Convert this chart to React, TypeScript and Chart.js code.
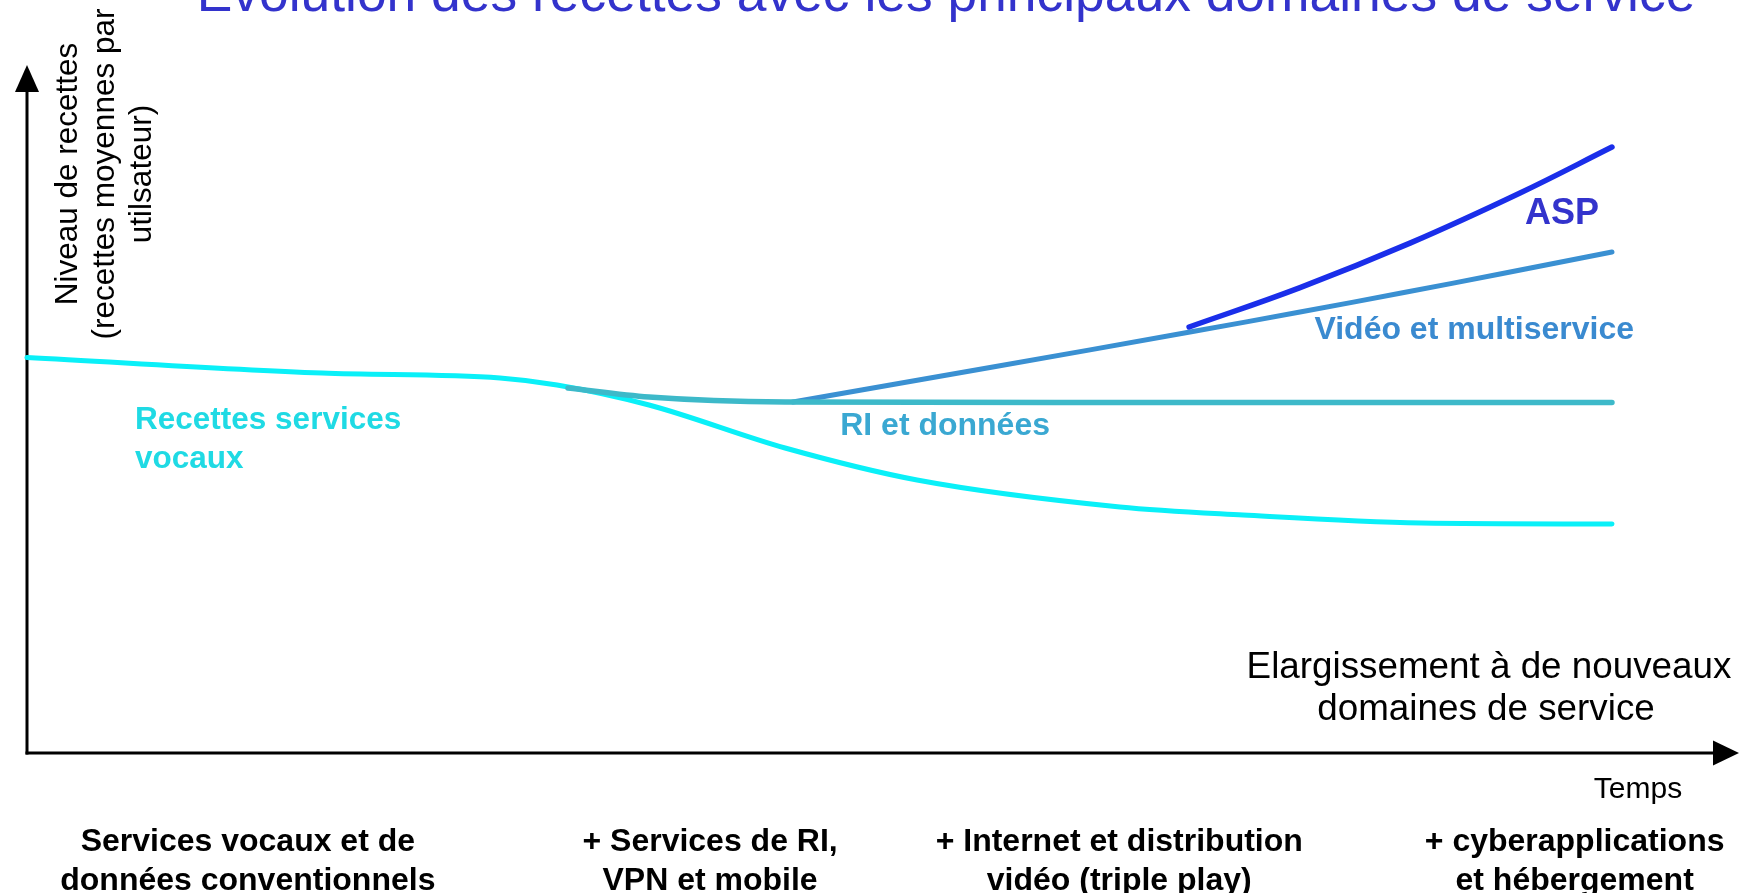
import React, { useEffect, useRef } from "react";
import { Chart, registerables } from "chart.js";

Chart.register(...registerables);

// ---- Data (time units 0..100, revenue level units 0..100) ----
const voiceTime = [0, 17.23, 27.63, 30.96, 36.33, 44.28, 51.99, 63.84, 71.03, 81.43, 92.58];
const voiceRevenue = [57.5, 55.23, 54.51, 53.49, 50.58, 44.33, 39.68, 35.76, 34.59, 33.43, 33.28];

const riTime = [31.6, 36.33, 44.28, 60.0, 92.58];
const riRevenue = [53.05, 51.74, 51.02, 50.95, 50.95];

const videoTime = [44.74, 56.25, 67.93, 74.36, 80.43, 86.04, 92.58];
const videoRevenue = [51.02, 56.03, 61.19, 64.1, 66.93, 69.62, 72.82];

const aspTime = [67.88, 74.36, 80.78, 87.21, 92.58];
const aspRevenue = [61.92, 67.65, 74.11, 81.4, 88.08];

const seriesNames = ["RI et données", "ASP", "Vidéo et multiservice", "Recettes services vocaux"];

const phaseCenters = [12.9, 39.9, 63.8, 90.4];
const phaseLabels = [
  ["Services vocaux et de", "données conventionnels"],
  ["+ Services de RI,", "VPN et mobile"],
  ["+ Internet et distribution", "vidéo (triple play)"],
  ["+ cyberapplications", "et hébergement"],
];

const titleText = "Evolution des recettes avec les principaux domaines de service";
const yAxisTitle = ["Niveau de recettes", "(recettes moyennes par", "utilsateur)"];
const xAxisTitle = ["Elargissement à de nouveaux", "domaines de service"];
const timeLabel = "Temps";

const FONT = '"Liberation Sans", Arial, Helvetica, sans-serif';

function toPoints(xs: number[], ys: number[]) {
  return xs.map((x, i) => ({ x, y: ys[i] }));
}

const decorPlugin = {
  id: "decor",
  beforeDatasetsDraw(chart: any) {
    const { ctx, chartArea } = chart;
    const { left, right, top, bottom } = chartArea;
    ctx.save();
    ctx.strokeStyle = "#000";
    ctx.fillStyle = "#000";
    ctx.lineWidth = 3;
    // y axis
    ctx.beginPath();
    ctx.moveTo(left, bottom + 1.5);
    ctx.lineTo(left, top + 20);
    ctx.stroke();
    ctx.beginPath();
    ctx.moveTo(left, top);
    ctx.lineTo(left - 12, top + 27);
    ctx.lineTo(left + 12, top + 27);
    ctx.closePath();
    ctx.fill();
    // x axis
    ctx.beginPath();
    ctx.moveTo(left - 1.5, bottom);
    ctx.lineTo(right - 20, bottom);
    ctx.stroke();
    ctx.beginPath();
    ctx.moveTo(right, bottom);
    ctx.lineTo(right - 26, bottom - 12.5);
    ctx.lineTo(right - 26, bottom + 12.5);
    ctx.closePath();
    ctx.fill();
    ctx.restore();
  },
  afterDraw(chart: any) {
    const { ctx, chartArea, scales } = chart;
    const xs = scales.x;
    const ys = scales.y;
    const { bottom } = chartArea;
    ctx.save();
    ctx.textBaseline = "alphabetic";

    // Title
    ctx.fillStyle = "#3333CC";
    ctx.font = `53.4px ${FONT}`;
    ctx.textAlign = "center";
    ctx.fillText(titleText, 946, 11);

    // Y axis title (rotated)
    ctx.fillStyle = "#000";
    ctx.font = `31.5px ${FONT}`;
    const yBase = [77, 114, 151];
    yAxisTitle.forEach((t, i) => {
      ctx.save();
      ctx.translate(yBase[i], 174);
      ctx.rotate(-Math.PI / 2);
      ctx.textAlign = "center";
      ctx.fillText(t, 0, 0);
      ctx.restore();
    });

    // X axis description
    ctx.font = `36.8px ${FONT}`;
    ctx.textAlign = "center";
    ctx.fillText(xAxisTitle[0], 1489, 678);
    ctx.fillText(xAxisTitle[1], 1486, 720);
    ctx.font = `30px ${FONT}`;
    ctx.fillText(timeLabel, 1638, 798);

    // Phase labels
    ctx.font = `bold 32px ${FONT}`;
    phaseLabels.forEach((lines, i) => {
      const px = xs.getPixelForValue(phaseCenters[i]);
      lines.forEach((l, j) => ctx.fillText(l, px, bottom + 98 + j * 39));
    });

    // Series labels
    ctx.textAlign = "left";
    ctx.font = `bold 31.5px ${FONT}`;
    ctx.fillStyle = "#1FDAE4";
    const vx = xs.getPixelForValue(6.31);
    const vy = ys.getPixelForValue(47.1);
    ctx.fillText("Recettes services", vx, vy);
    ctx.fillText("vocaux", vx, vy + 39);

    ctx.font = `bold 32px ${FONT}`;
    ctx.fillStyle = "#3AA8D2";
    ctx.fillText(seriesNames[0], xs.getPixelForValue(47.5), ys.getPixelForValue(46.2));

    ctx.fillStyle = "#3A8AD0";
    ctx.fillText(seriesNames[2], xs.getPixelForValue(75.2), ys.getPixelForValue(60.2));

    ctx.font = `bold 36px ${FONT}`;
    ctx.fillStyle = "#3333CC";
    ctx.fillText(seriesNames[1], xs.getPixelForValue(87.5), ys.getPixelForValue(76.9));

    ctx.restore();
  },
};

export default function App() {
  const canvasRef = useRef<HTMLCanvasElement | null>(null);

  useEffect(() => {
    if (!canvasRef.current) return;
    const common = {
      pointRadius: 0,
      borderWidth: 5,
      borderCapStyle: "round",
      borderJoinStyle: "round",
      cubicInterpolationMode: "monotone",
      fill: false,
      clip: false,
    };
    const smooth = {
      pointRadius: 0,
      borderWidth: 5,
      borderCapStyle: "round",
      borderJoinStyle: "round",
      tension: 0.4,
      fill: false,
      clip: false,
    };
    const chart = new Chart(canvasRef.current, {
      type: "line",
      data: {
        datasets: [
          { ...common, label: seriesNames[0], data: toPoints(riTime, riRevenue), borderColor: "#3DB9C9", borderWidth: 5.5 },
          { ...smooth, label: seriesNames[1], data: toPoints(aspTime, aspRevenue), borderColor: "#1A2EEA", borderWidth: 5.5 },
          { ...smooth, label: seriesNames[2], data: toPoints(videoTime, videoRevenue), borderColor: "#3A90D2" },
          { ...common, label: seriesNames[3], data: toPoints(voiceTime, voiceRevenue), borderColor: "#0AF0F8" },
        ] as any,
      },
      options: {
        responsive: false,
        animation: false,
        events: [],
        layout: { padding: { left: 27, right: 8, top: 65, bottom: 140 } },
        scales: {
          x: { type: "linear", min: 0, max: 100, display: false },
          y: { type: "linear", min: 0, max: 100, display: false },
        },
        plugins: {
          legend: { display: false },
          tooltip: { enabled: false },
          title: { display: false },
        },
      },
      plugins: [decorPlugin],
    });
    return () => chart.destroy();
  }, []);

  return (
    <div style={{ position: "absolute", left: 0, top: 0, width: 1747, height: 893, background: "#fff" }}>
      <canvas ref={canvasRef} width={1747} height={893} style={{ display: "block", width: 1747, height: 893 }} />
    </div>
  );
}
